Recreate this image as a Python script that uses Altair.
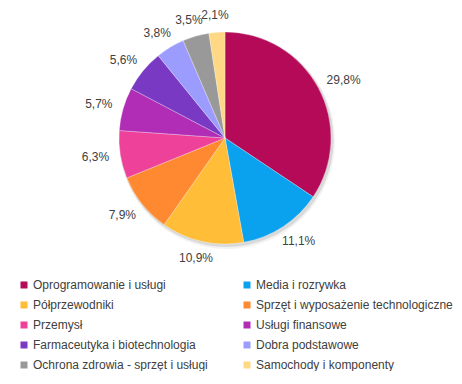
import altair as alt
import pandas as pd

categories = [
    "Oprogramowanie i usługi",
    "Media i rozrywka",
    "Półprzewodniki",
    "Sprzęt i wyposażenie technologiczne",
    "Przemysł",
    "Usługi finansowe",
    "Farmaceutyka i biotechnologia",
    "Dobra podstawowe",
    "Ochrona zdrowia - sprzęt i usługi",
    "Samochody i komponenty",
]
values = [29.8, 11.1, 10.9, 7.9, 6.3, 5.7, 5.6, 3.8, 3.5, 2.1]
labels = ["29,8%", "11,1%", "10,9%", "7,9%", "6,3%", "5,7%", "5,6%", "3,8%", "3,5%", "2,1%"]
colors = ["#B40A58", "#0AA2EE", "#FFBD38", "#FF8930", "#EE4199",
          "#B22DB5", "#7939C2", "#9C9CFF", "#999999", "#FFD886"]

# legend fills column-major, so interleave to read row by row
legend_order = [0, 2, 4, 6, 8, 1, 3, 5, 7, 9]
domain = [categories[i] for i in legend_order]
rng = [colors[i] for i in legend_order]

df = pd.DataFrame({
    "kategoria": categories,
    "wartosc": values,
    "etykieta": labels,
    "kolejnosc": list(range(len(categories))),
})

W, H = 434, 260
PIE_R = 106
LABEL_R = 118
FONT = "Liberation Sans"
TXT = "#404040"

base = alt.Chart(df)

shadow1 = base.transform_aggregate(total="sum(wartosc)").mark_arc(
    outerRadius=PIE_R + 1, xOffset=1.5, yOffset=2, color="#000000", opacity=0.10
).encode(theta=alt.Theta("total:Q"))
shadow2 = base.transform_aggregate(total="sum(wartosc)").mark_arc(
    outerRadius=PIE_R + 2, xOffset=2, yOffset=3, color="#000000", opacity=0.05
).encode(theta=alt.Theta("total:Q"))

pie = base.mark_arc(outerRadius=PIE_R, stroke="#ffffff", strokeWidth=0.3).encode(
    theta=alt.Theta("wartosc:Q", stack=True),
    order=alt.Order("kolejnosc:Q", sort="ascending"),
    color=alt.Color(
        "kategoria:N",
        scale=alt.Scale(domain=domain, range=rng),
        sort=domain,
        legend=alt.Legend(
            title=None,
            orient="none",
            legendX=10,
            legendY=271,
            columns=2,
            columnPadding=33,
            rowPadding=8,
            symbolType="square",
            symbolSize=49,
            symbolStrokeWidth=0,
            labelFont=FONT,
            labelFontSize=12,
            labelColor=TXT,
            labelOffset=3,
            labelLimit=300,
        ),
    ),
)

text = (
    base.transform_window(
        cum="sum(wartosc)",
        sort=[alt.SortField("kolejnosc", order="ascending")],
        frame=[None, 0],
    )
    .transform_joinaggregate(total="sum(wartosc)")
    .transform_calculate(
        mid="(datum.cum - datum.wartosc / 2) / datum.total * 2 * PI",
        w="length(datum.etykieta) * 6.6",
    )
    .transform_calculate(
        lx=f"{W / 2} + {LABEL_R} * sin(datum.mid) + sin(datum.mid) * datum.w / 2",
        ly=f"{H / 2} - {LABEL_R} * cos(datum.mid) - cos(datum.mid) * 5",
    )
    .mark_text(font=FONT, fontSize=12, color=TXT, align="center", baseline="middle")
    .encode(
        x=alt.X("lx:Q", scale=None, axis=None),
        y=alt.Y("ly:Q", scale=None, axis=None),
        text="etykieta:N",
    )
)

chart = (
    alt.layer(shadow2, shadow1, pie, text)
    .properties(width=W, height=H, padding=0)
    .configure_view(stroke=None)
)

chart.save("out.html", embed_options={"renderer": "svg", "actions": False})
